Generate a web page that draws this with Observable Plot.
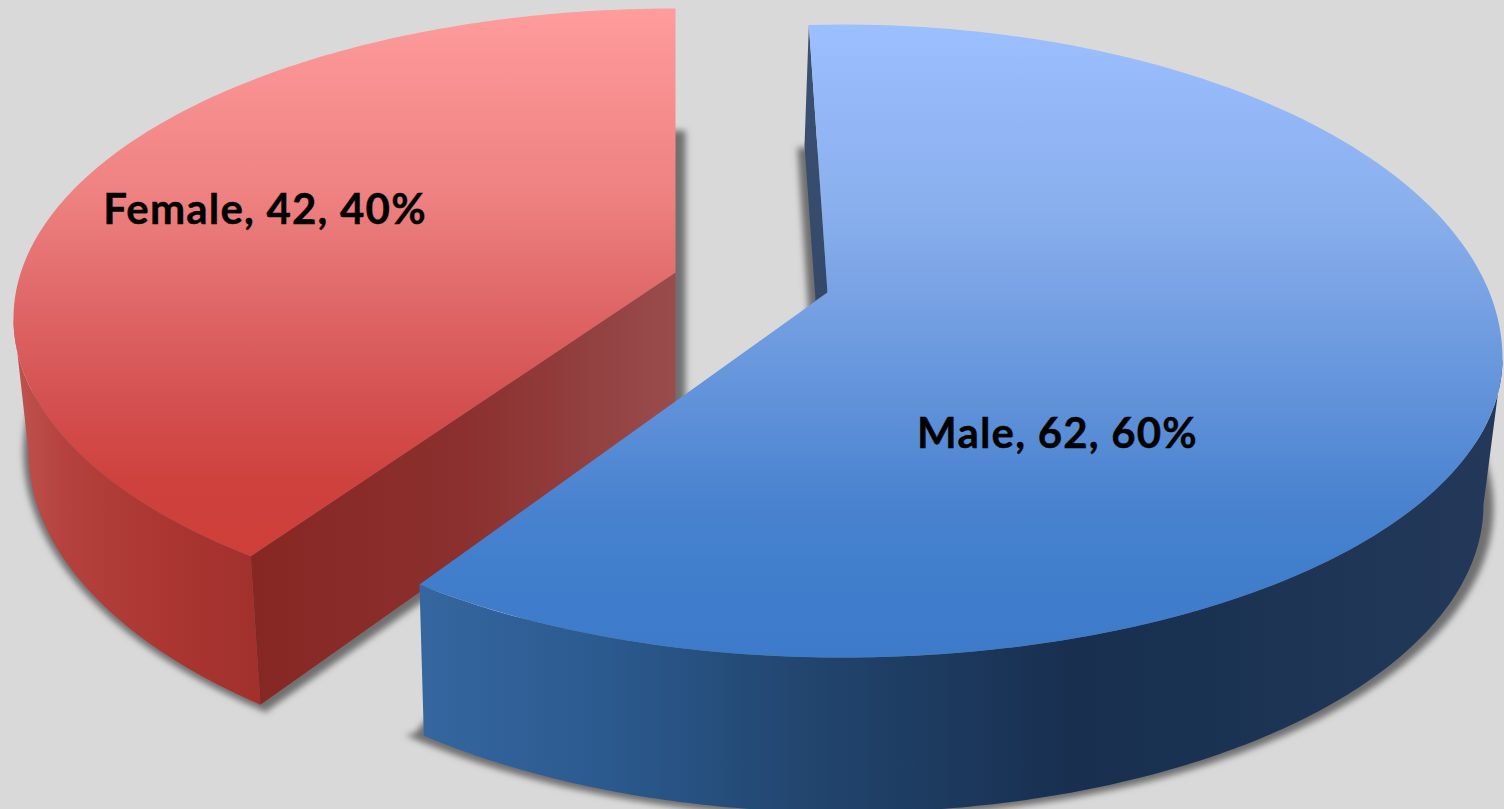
<!DOCTYPE html>
<html><head><meta charset="utf-8">
<script src="https://cdn.jsdelivr.net/npm/d3@7"></script>
<script src="https://cdn.jsdelivr.net/npm/@observablehq/plot@0.6"></script>
<style>html,body{margin:0;padding:0;background:#d9d9d9;overflow:hidden}svg{display:block}</style>
</head><body>
<script>
const categories = ["Female", "Male"];
const counts = [42, 62];
const total = d3.sum(counts);
const shares = counts.map(v => v / total);
const labels = categories.map((c, i) => `${c}, ${counts[i]}, ${Math.round(shares[i] * 100)}%`);

const W = 1504, H = 809;
// view of the tilted pie: rims of the top and bottom faces (perspective makes them slightly egg-shaped)
const rim = (cx, cy, rx, ry, rxL = rx, ryD = ry) => ({cx, cy, rx, ry, rxL, ryD});
const female = {
  top: rim(675, 318, 662, 310),
  bottom: rim(700, 451, 672, 335),
  shadow: rim(700, 451, 677, 340),
  apexTop: [675, 272], apexBottom: [675, 411],
  shadowApex: [685, 416], shadowTip: [264, 712], shadowCover: [660, 130], shadowStart: [685, 130],
  start: 360 - shares[0] * 360 + 5.3,
  bottomShift: 1
};
const male = {
  top: rim(841, 358, 661, 334, 645, 299),
  bottom: rim(845, 504, 638, 308),
  shadow: rim(845, 507, 648, 310),
  apexTop: [827, 292],
  waist: [804, 145], foot: [815, 300],
  shadowWaist: [797, 147], shadowCover: [860, 147], shadowFoot: [808, 312], shadowTip: [414, 733], shadowInner: [432, 712],
  start: -2.9,
  end: -2.9 + shares[1] * 360 + 9.15
};
const pt = (e, t) => {
  const s = Math.sin(t * Math.PI / 180), c = Math.cos(t * Math.PI / 180);
  return {x: e.cx + (s >= 0 ? e.rx : e.rxL) * s, y: e.cy - (c >= 0 ? e.ry : e.ryD) * c};
};
const arc = (e, a, b) => d3.range(0, 181).map(i => pt(e, a + (b - a) * i / 180));
const P = ([x, y]) => ({x, y});

const fBottomStart = female.start + female.bottomShift;
const femaleWall = [...arc(female.bottom, fBottomStart, 270), ...arc(female.top, 270, female.start)];
const femaleCut = [P(female.apexTop), pt(female.top, female.start), pt(female.bottom, fBottomStart), P(female.apexBottom)];
const femaleTop = [P(female.apexTop), ...arc(female.top, female.start, 360)];
const femaleShadow = [P(female.shadowApex), P(female.shadowTip), ...arc(female.shadow, fBottomStart - 1.5, 350), P(female.shadowCover), P(female.shadowStart)];

const maleEndBottom = male.end + 0.5;
const maleWall = [...arc(male.bottom, 90, maleEndBottom), ...arc(male.top, male.end, 90)];
const maleSliver = [pt(male.top, male.start), P(male.waist), P(male.foot), P(male.apexTop)];
const maleTop = [P(male.apexTop), ...arc(male.top, male.start, male.end)];
const maleShadow = [P(male.shadowFoot), P(male.shadowWaist), P(male.shadowCover), ...arc(male.shadow, 10, male.end + 2), P(male.shadowTip), P(male.shadowInner)];

const labelAt = [{x: 264.5, y: 210}, {x: 1057, y: 434}];
const labelData = labels.map((t, i) => ({t, ...labelAt[i]}));

const poly = (pts, fill) => Plot.line(pts, {x: "x", y: "y", fill, stroke: "none"});

const chart = Plot.plot({
  width: W, height: H, margin: 0,
  x: {domain: [0, W], range: [0, W], axis: null},
  y: {domain: [0, H], range: [0, H], axis: null},
  style: {background: "#d9d9d9"},
  marks: [
    poly(femaleShadow, "#707070"),
    poly(maleShadow, "#707070"),
    poly(femaleWall, "url(#fWall)"),
    poly(femaleCut, "url(#fCut)"),
    poly(femaleTop, "url(#fTop)"),
    poly(maleSliver, "url(#mSliver)"),
    poly(maleWall, "url(#mWall)"),
    poly(maleTop, "url(#mTop)"),
    Plot.text(labelData, {x: "x", y: "y", text: "t", fill: "#000", fontSize: 42, fontWeight: 700,
      fontFamily: "Lato, 'Open Sans', sans-serif", textAnchor: "middle"})
  ]
});

const svg = d3.select(chart);
const defs = svg.insert("defs", ":first-child");
function grad(id, vertical, stops) {
  const g = defs.append("linearGradient").attr("id", id)
    .attr("x1", 0).attr("y1", 0).attr("x2", vertical ? 0 : 1).attr("y2", vertical ? 1 : 0);
  stops.forEach(([o, c]) => g.append("stop").attr("offset", o).attr("stop-color", c));
}
grad("fTop", true, [[0, "#ff9c9c"], [.35, "#ee8080"], [.53, "#e06868"], [.72, "#d45050"], [.87, "#ce413c"], [1, "#cf3f3a"]]);
grad("mTop", true, [[0, "#9cbfff"], [.28, "#8bb0ee"], [.43, "#78a2e4"], [.75, "#4a83d0"], [.85, "#417fcd"], [1, "#3d7bca"]]);
grad("fWall", false, [[0, "#bf5450"], [.2, "#b5423e"], [.6, "#ab3632"], [1, "#a1302c"]]);
grad("fCut", false, [[0, "#872724"], [.5, "#8b302e"], [.8, "#924040"], [1, "#9a4c4c"]]);
grad("mWall", false, [[0, "#35669f"], [.17, "#2b5a8f"], [.35, "#22466f"], [.6, "#182f50"], [.72, "#1a3252"], [1, "#24395a"]]);
grad("mSliver", true, [[0, "#3d5272"], [1, "#34496a"]]);
defs.append("filter").attr("id", "soft")
  .attr("x", "-10%").attr("y", "-10%").attr("width", "120%").attr("height", "120%")
  .append("feGaussianBlur").attr("stdDeviation", 3);
svg.selectAll('g[aria-label="line"]').filter((d, i) => i < 2).selectAll("path").attr("filter", "url(#soft)");
svg.selectAll('g[aria-label="text"] text').style("letter-spacing", "1.2px").style("stroke", "#000").style("stroke-width", "0.4px");

document.body.appendChild(chart);
</script>
</body></html>
